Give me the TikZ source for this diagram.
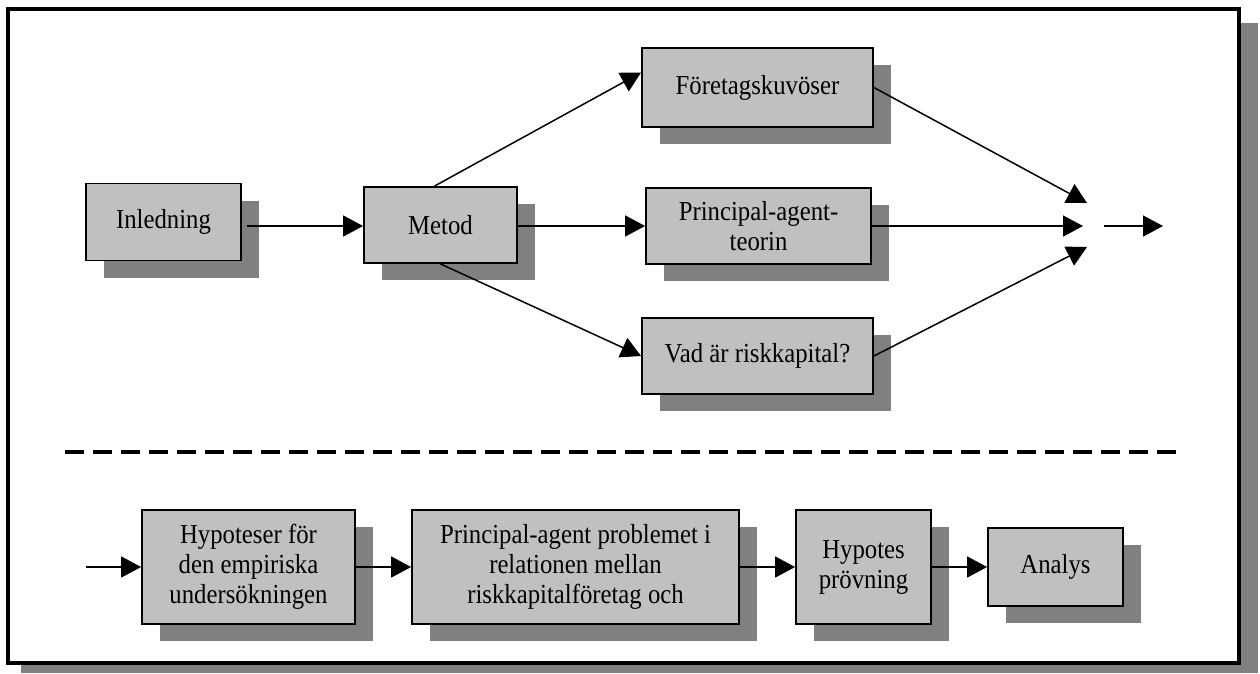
\documentclass[tikz,border=0pt]{standalone}
\usepackage{fontspec}
\setmainfont{Liberation Serif}[FakeStretch=0.9]
\usetikzlibrary{arrows.meta,shadows,calc}
\definecolor{boxgray}{HTML}{C0C0C0}
\definecolor{shadowgray}{HTML}{808080}
\begin{document}
\begin{tikzpicture}[x=1pt,y=-1pt,
  box/.style={draw=black, line width=1.8pt, fill=boxgray, inner sep=0pt, align=center,
    font=\fontsize{27.5}{30}\selectfont,
    drop shadow={shadow xshift=18pt, shadow yshift=-17pt, fill=shadowgray, draw=none, opacity=1}},
  conn/.style={line width=1.5pt, -{Triangle[length=20pt,width=21pt]}},
  sep/.style={line width=4pt, dash pattern=on 19pt off 9pt},
  frame/.style={line width=3.5pt, draw=black, fill=white},
  frameshadow/.style={fill=shadowgray}
]
\useasboundingbox (0,0) rectangle (1260,673);
\fill[frameshadow] (21,23) rectangle (1258,673);
\draw[frame] (8,9) rectangle (1239,663);

\coordinate (t1) at (1087,203);
\coordinate (t2) at (1083,226);
\coordinate (t3) at (1087,247);
\coordinate (o1) at (1104,226);
\coordinate (o2) at (1163,226);
\coordinate (in) at (86,567);
\coordinate (s1) at (65,452);
\coordinate (s2) at (1177,452);

\node[box, minimum width=155pt, minimum height=77pt] (inl) at (163.5,222) {Inledning};
\node[box, minimum width=153pt, minimum height=76pt] (met) at (440.5,225) {Metod};
\node[box, minimum width=231pt, minimum height=79pt] (fk) at (757.5,87.5) {Företagskuvöser};
\node[box, minimum width=225pt, minimum height=76pt] (pat) at (758.5,226) {Principal-agent-\\teorin};
\node[box, minimum width=231pt, minimum height=76pt] (vad) at (757.5,356) {Vad är riskkapital?};

\node[box, minimum width=213pt, minimum height=114pt] (hyp) at (248.5,567) {Hypoteser för\\den empiriska\\undersökningen};
\node[box, minimum width=327pt, minimum height=114pt] (pap) at (575.5,567) {Principal-agent problemet i\\relationen mellan\\riskkapitalföretag och};
\node[box, minimum width=135pt, minimum height=114pt] (hp) at (863.5,567) {Hypotes\\prövning};
\node[box, minimum width=135pt, minimum height=78pt] (an) at (1055.5,567) {Analys};

\draw[sep] (s1) -- (s2);

\draw[conn, shorten <=5pt] ([yshift=-4pt]inl.east) -- ([yshift=-4pt]inl.east -| met.west);
\draw[conn] ([xshift=-6pt]met.north) -- ([yshift=15pt]fk.west);
\draw[conn] ([yshift=-1pt]met.east) -- ([yshift=-1pt]met.east -| pat.west);
\draw[conn] (met.south) -- (vad.west);
\draw[conn] (fk.east) -- (t1);
\draw[conn] (pat.east) -- (t2);
\draw[conn] (vad.east) -- (t3);
\draw[conn] (o1) -- (o2);
\draw[conn] (in) -- (hyp.west);
\draw[conn] (hyp.east) -- (pap.west);
\draw[conn] (pap.east) -- (hp.west);
\draw[conn] (hp.east) -- (an.west);
\end{tikzpicture}
\end{document}
